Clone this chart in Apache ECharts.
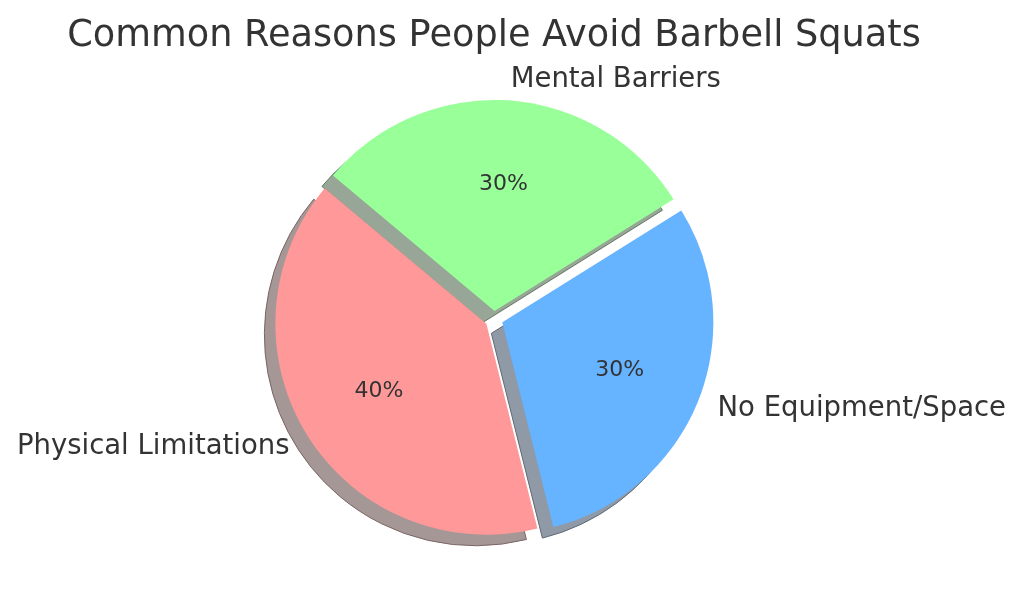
<!DOCTYPE html>
<html>
<head>
<meta charset="utf-8">
<script src="https://cdn.jsdelivr.net/npm/echarts@6/dist/echarts.min.js"></script>
<style>
html,body{margin:0;padding:0;background:#fff;}
#chart{width:1024px;height:599px;}
</style>
</head>
<body>
<div id="chart"></div>
<script>
const titleText = 'Common Reasons People Avoid Barbell Squats';
const categories = ['Physical Limitations', 'No Equipment/Space', 'Mental Barriers'];
const shares = [40, 30, 30];
const sliceColors = ['#ff9999', '#66b3ff', '#99ff99'];
const shadowColors = ['#a69797', '#8f9aa6', '#97a697'];
const shadowEdgeColors = ['#7a6565', '#5f6a78', '#657a65'];
const explodePx = [9, 9, 8];

const CX = 494, CY = 319, R = 211;
const SHADOW_DX = -11, SHADOW_DY = 11;
const FONT = 'DejaVu Sans';
const TEXT_COLOR = '#333333';
const transparent = 'rgba(0,0,0,0)';

const baseSeries = {
  type: 'pie',
  startAngle: 140,
  clockwise: false,
  selectedMode: 'single',
  silent: true,
  avoidLabelOverlap: false,
  animation: false,
  emphasis: { disabled: true },
  labelLine: { show: false, length: R * 0.1, length2: 0 },
};

const series = [];
categories.forEach((_, i) => {
  // shadow
  series.push(Object.assign({}, baseSeries, {
    z: 1,
    center: [CX + SHADOW_DX, CY + SHADOW_DY],
    radius: [0, R],
    selectedOffset: explodePx[i],
    label: { show: false },
    data: categories.map((n, j) => ({
      name: n, value: shares[j], selected: j === i,
      itemStyle: j === i
        ? { color: shadowColors[i], borderColor: shadowEdgeColors[i], borderWidth: 1 }
        : { color: transparent, borderWidth: 0 }
    }))
  }));
  // wedge + outer label
  series.push(Object.assign({}, baseSeries, {
    z: 2,
    center: [CX, CY],
    radius: [0, R],
    selectedOffset: explodePx[i],
    label: {
      show: true, position: 'outside', formatter: '{b}',
      fontFamily: FONT, fontSize: 27.5, color: TEXT_COLOR,
      distanceToLabelLine: 0
    },
    data: categories.map((n, j) => ({
      name: n, value: shares[j], selected: j === i,
      itemStyle: { color: j === i ? sliceColors[i] : transparent, borderWidth: 0 },
      label: { show: j === i }
    }))
  }));
  // percentage label ring
  series.push(Object.assign({}, baseSeries, {
    z: 3,
    center: [CX, CY],
    radius: [R * 0.2 - 6, R],
    selectedOffset: explodePx[i],
    label: {
      show: true, position: 'inside', formatter: '{d}%',
      fontFamily: FONT, fontSize: 22, color: TEXT_COLOR
    },
    data: categories.map((n, j) => ({
      name: n, value: shares[j], selected: j === i,
      itemStyle: { color: transparent, borderWidth: 0 },
      label: { show: j === i }
    }))
  }));
});

const chart = echarts.init(document.getElementById('chart'), null, { renderer: 'canvas' });
chart.setOption({
  backgroundColor: '#ffffff',
  animation: false,
  title: {
    text: titleText,
    left: 489,
    textAlign: 'center',
    top: 13,
    textStyle: { fontFamily: FONT, fontSize: 36.7, fontWeight: 'normal', color: TEXT_COLOR }
  },
  series: series
});
</script>
</body>
</html>
